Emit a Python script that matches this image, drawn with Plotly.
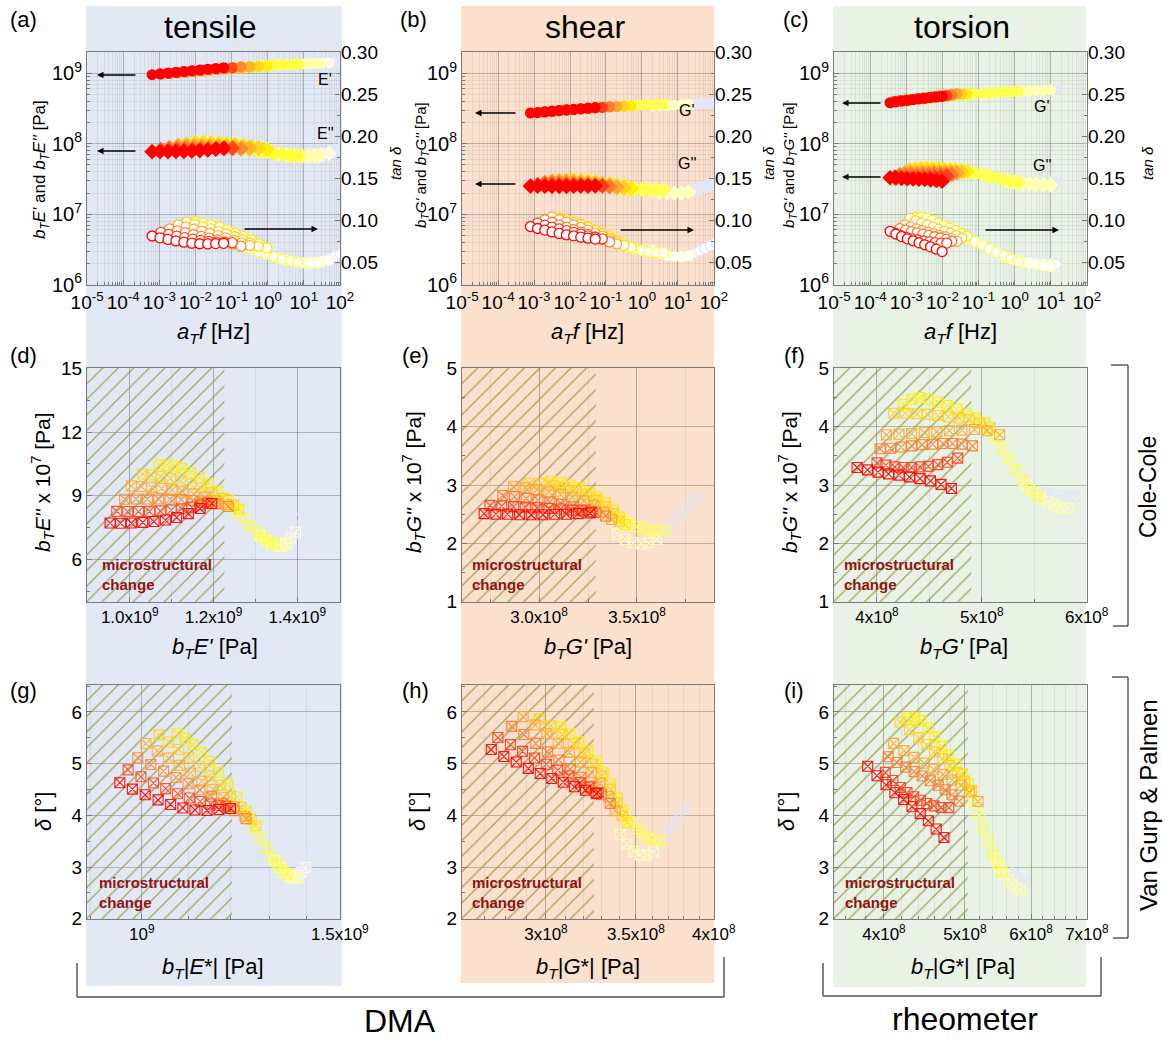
import numpy as np
import plotly.graph_objects as go

W, H = 1174, 1042
FONT = "Liberation Sans, Arial, Helvetica, sans-serif"

# ======================= DATA =======================
# Each inner list is one temperature segment of the master curve.
# log10(a_T f [Hz]), storage modulus, loss modulus
# ---- tensile (DMA): b_T E' [1e9 Pa], b_T E'' [1e7 Pa]
TENSILE_LOGF = [
    [-3.20, -2.98, -2.76, -2.54, -2.32, -2.10, -1.88, -1.66, -1.44, -1.22],
    [-2.96, -2.74, -2.52, -2.30, -2.08, -1.86, -1.64, -1.42, -1.20, -0.98],
    [-2.72, -2.50, -2.28, -2.06, -1.84, -1.62, -1.40, -1.18, -0.96, -0.74],
    [-2.48, -2.26, -2.04, -1.82, -1.60, -1.38, -1.16, -0.94, -0.72, -0.50],
    [-2.24, -2.02, -1.80, -1.58, -1.36, -1.14, -0.92, -0.70, -0.48, -0.26],
    [-2.00, -1.78, -1.56, -1.34, -1.12, -0.90, -0.68, -0.46, -0.24, -0.02],
    [-0.70, -0.48, -0.26, -0.04, 0.18, 0.40, 0.62, 0.84],
    [0.30, 0.52, 0.74, 0.96, 1.18, 1.40],
    [1.10, 1.30, 1.50, 1.70],
    [1.55, 1.70, 1.85, 2.00],
]
TENSILE_STORAGE = [
    [0.953, 0.978, 1.004, 1.031, 1.058, 1.085, 1.112, 1.140, 1.168, 1.196],
    [0.969, 0.995, 1.021, 1.047, 1.073, 1.099, 1.124, 1.148, 1.168, 1.185],
    [0.988, 1.015, 1.042, 1.069, 1.096, 1.123, 1.150, 1.177, 1.205, 1.235],
    [1.004, 1.028, 1.052, 1.076, 1.101, 1.127, 1.153, 1.179, 1.205, 1.232],
    [1.031, 1.052, 1.074, 1.097, 1.121, 1.145, 1.170, 1.196, 1.222, 1.248],
    [1.070, 1.088, 1.106, 1.125, 1.145, 1.166, 1.188, 1.211, 1.235, 1.260],
    [1.243, 1.258, 1.273, 1.288, 1.303, 1.318, 1.332, 1.345],
    [1.310, 1.325, 1.339, 1.352, 1.364, 1.376],
    [1.360, 1.372, 1.384, 1.396],
    [1.390, 1.399, 1.408, 1.417],
]
TENSILE_LOSS = [
    [7.72, 7.71, 7.72, 7.75, 7.79, 7.86, 7.98, 8.16, 8.40, 8.64],
    [8.27, 8.26, 8.26, 8.27, 8.29, 8.33, 8.39, 8.47, 8.57, 8.66],
    [8.84, 8.85, 8.85, 8.85, 8.84, 8.82, 8.78, 8.71, 8.62, 8.50],
    [9.47, 9.44, 9.40, 9.35, 9.28, 9.19, 9.08, 8.95, 8.78, 8.58],
    [10.03, 9.98, 9.91, 9.82, 9.70, 9.55, 9.37, 9.15, 8.88, 8.56],
    [10.45, 10.45, 10.40, 10.28, 10.10, 9.86, 9.57, 9.22, 8.82, 8.38],
    [8.52, 8.22, 7.90, 7.58, 7.28, 7.03, 6.84, 6.72],
    [7.15, 6.92, 6.75, 6.64, 6.62, 6.70],
    [6.62, 6.78, 7.00, 7.30],
    [7.20, 7.55, 7.95, 8.40],
]

# ---- shear (DMA): b_T G' [1e8 Pa], b_T G'' [1e7 Pa]
SHEAR_LOGF = [
    [-3.10, -2.90, -2.70, -2.50, -2.30, -2.10, -1.90, -1.70, -1.50, -1.30],
    [-2.90, -2.70, -2.50, -2.30, -2.10, -1.90, -1.70, -1.50, -1.30, -1.10],
    [-2.70, -2.50, -2.30, -2.10, -1.90, -1.70, -1.50, -1.30, -1.10, -0.90],
    [-2.50, -2.30, -2.10, -1.90, -1.70, -1.50, -1.30, -1.10, -0.90, -0.70],
    [-2.30, -2.10, -1.90, -1.70, -1.50, -1.30, -1.10, -0.90, -0.70, -0.50],
    [-2.10, -1.90, -1.70, -1.50, -1.30, -1.10, -0.90, -0.70, -0.50, -0.30],
    [-0.60, -0.40, -0.20, 0.00, 0.20, 0.40, 0.60],
    [0.30, 0.50, 0.70, 0.90, 1.10, 1.30],
    [1.30, 1.45, 1.60, 1.75, 1.90, 2.05],
]
SHEAR_STORAGE = [
    [2.72, 2.78, 2.84, 2.90, 2.96, 3.02, 3.08, 3.14, 3.20, 3.26],
    [2.75, 2.81, 2.87, 2.93, 2.99, 3.05, 3.11, 3.17, 3.22, 3.27],
    [2.815, 2.875, 2.935, 2.995, 3.055, 3.115, 3.175, 3.235, 3.29, 3.34],
    [2.87, 2.93, 2.99, 3.05, 3.11, 3.17, 3.23, 3.28, 3.33, 3.37],
    [2.95, 3.01, 3.07, 3.13, 3.19, 3.24, 3.29, 3.34, 3.38, 3.41],
    [3.06, 3.11, 3.16, 3.21, 3.26, 3.30, 3.34, 3.38, 3.41, 3.44],
    [3.43, 3.46, 3.50, 3.53, 3.57, 3.60, 3.64],
    [3.40, 3.44, 3.48, 3.52, 3.56, 3.60],
    [3.60, 3.64, 3.68, 3.72, 3.76, 3.80],
]
SHEAR_LOSS = [
    [2.51, 2.50, 2.50, 2.49, 2.49, 2.49, 2.50, 2.50, 2.51, 2.52],
    [2.65, 2.64, 2.63, 2.62, 2.61, 2.60, 2.59, 2.57, 2.56, 2.54],
    [2.82, 2.80, 2.77, 2.74, 2.71, 2.67, 2.63, 2.58, 2.53, 2.47],
    [2.97, 2.95, 2.92, 2.88, 2.84, 2.79, 2.73, 2.65, 2.54, 2.41],
    [3.03, 3.02, 2.99, 2.95, 2.90, 2.83, 2.74, 2.63, 2.51, 2.38],
    [3.06, 3.04, 3.00, 2.95, 2.88, 2.79, 2.69, 2.57, 2.45, 2.32],
    [2.40, 2.34, 2.29, 2.25, 2.22, 2.21, 2.23],
    [2.16, 2.07, 2.01, 1.99, 2.01, 2.07],
    [2.10, 2.20, 2.32, 2.46, 2.60, 2.76],
]

# ---- torsion (rheometer): b_T G' [1e8 Pa], b_T G'' [1e7 Pa]
TORSION_LOGF = [
    [-3.45, -3.29, -3.13, -2.97, -2.81, -2.65, -2.49, -2.33, -2.17, -2.01],
    [-3.32, -3.16, -3.00, -2.84, -2.68, -2.52, -2.36, -2.20, -2.04, -1.88],
    [-3.18, -3.02, -2.86, -2.70, -2.54, -2.38, -2.22, -2.06, -1.90, -1.74],
    [-3.04, -2.88, -2.72, -2.56, -2.40, -2.24, -2.08, -1.92, -1.76, -1.60],
    [-2.90, -2.74, -2.58, -2.42, -2.26, -2.10, -1.94, -1.78, -1.62, -1.46],
    [-2.76, -2.60, -2.44, -2.28, -2.12, -1.96, -1.80, -1.64, -1.48, -1.32],
    [-1.30, -1.10, -0.90, -0.70, -0.50, -0.30, -0.10, 0.10],
    [-0.20, 0.00, 0.20, 0.40, 0.60, 0.80, 1.00],
    [0.40, 0.60, 0.80, 1.00, 1.15],
]
TORSION_STORAGE = [
    [3.81, 3.91, 4.01, 4.11, 4.21, 4.31, 4.41, 4.51, 4.61, 4.71],
    [4.00, 4.085, 4.17, 4.25, 4.33, 4.41, 4.49, 4.58, 4.67, 4.77],
    [4.03, 4.13, 4.23, 4.33, 4.43, 4.53, 4.63, 4.72, 4.81, 4.91],
    [4.09, 4.21, 4.33, 4.45, 4.57, 4.69, 4.81, 4.93, 5.05, 5.17],
    [4.16, 4.27, 4.38, 4.48, 4.58, 4.68, 4.78, 4.88, 4.98, 5.08],
    [4.25, 4.33, 4.41, 4.49, 4.58, 4.67, 4.76, 4.85, 4.94, 5.03],
    [5.06, 5.12, 5.19, 5.25, 5.32, 5.39, 5.46, 5.53],
    [5.43, 5.49, 5.56, 5.63, 5.69, 5.75, 5.82],
    [5.62, 5.69, 5.76, 5.83, 5.89],
]
TORSION_LOSS = [
    [3.30, 3.26, 3.22, 3.19, 3.17, 3.14, 3.11, 3.07, 3.01, 2.94],
    [3.38, 3.34, 3.31, 3.30, 3.30, 3.31, 3.32, 3.35, 3.39, 3.46],
    [3.62, 3.63, 3.65, 3.67, 3.69, 3.70, 3.71, 3.71, 3.70, 3.67],
    [3.86, 3.87, 3.88, 3.90, 3.91, 3.93, 3.94, 3.95, 3.93, 3.86],
    [4.23, 4.23, 4.22, 4.21, 4.19, 4.17, 4.15, 4.12, 4.06, 3.98],
    [4.38, 4.47, 4.50, 4.47, 4.42, 4.36, 4.30, 4.23, 4.15, 4.06],
    [3.95, 3.82, 3.64, 3.45, 3.26, 3.08, 2.93, 2.81],
    [3.00, 2.88, 2.78, 2.71, 2.66, 2.62, 2.60],
    [2.86, 2.83, 2.81, 2.80, 2.80],
]

STORAGE_UNIT = [1e9, 1e8, 1e8]
LOSS_UNIT = 1e7

# upper limit of the "microstructural change" (hatched) region
HATCH_LIMIT_COLECOLE = [1.226e9, 3.29e8, 4.90e8]
HATCH_LIMIT_VANGURP = [1.203e9, 3.257e8, 5.04e8]

COLUMN_TITLES = ["tensile", "shear", "torsion"]
MODULUS_SYMBOL = ["E", "G", "G"]

# ======================= STYLES =======================
TENSILE_COLORS = ['#ff0000', '#ff4a1c', '#ff8a2a', '#ffb22a', '#ffd41a', '#ffee00',
                  '#ffff3a', '#ffffa6', '#fff9e4', '#e4e6fa']
SHEAR_COLORS = ['#ff0000', '#ff3c1c', '#ff7a2a', '#ffa830', '#ffd01e', '#ffee00',
                '#ffff50', '#ffffc0', '#e4e6fa']
TORSION_COLORS = ['#ff0000', '#ff3c1c', '#ff7a2a', '#ffa830', '#ffd01e', '#fff000',
                  '#ffff50', '#ffffb0', '#e4e6fa']
COLUMN_BG = ['rgb(227,233,244)', 'rgb(250,224,205)', 'rgb(232,242,229)']

COLUMNS = [
    (TENSILE_LOGF, TENSILE_STORAGE, TENSILE_LOSS, TENSILE_COLORS),
    (SHEAR_LOGF, SHEAR_STORAGE, SHEAR_LOSS, SHEAR_COLORS),
    (TORSION_LOGF, TORSION_STORAGE, TORSION_LOSS, TORSION_COLORS),
]

COL_X = [(87, 340), (462, 714), (834, 1087)]
ROW_Y = [(52, 285), (368, 602), (685, 919)]


def dom_x(c):
    a, b = COL_X[c]
    return [a / W, b / W]


def dom_y(r):
    a, b = ROW_Y[r]
    return [1 - b / H, 1 - a / H]


def tf(size):
    return dict(family=FONT, size=size, color='black')


GRID = 'rgba(95,95,95,0.40)'
MINORGRID = 'rgba(95,95,95,0.10)'
FRAME = '#7a7a7a'


def base_axis(**kw):
    d = dict(showline=True, linecolor=FRAME, linewidth=1, mirror=True,
             ticks='inside', ticklen=5, tickcolor=FRAME, tickwidth=1, tickangle=0,
             showgrid=True, gridcolor=GRID, gridwidth=1, zeroline=False,
             automargin=False, fixedrange=True, tickfont=tf(18))
    d.update(kw)
    return d


def minor_axis(grid=True, **kw):
    d = dict(ticks='inside', ticklen=3, tickcolor=FRAME, showgrid=grid,
             gridcolor=MINORGRID, gridwidth=1)
    d.update(kw)
    return d


def sup(mant, e):
    return (f"{mant}x" if mant else "") + f"10<sup>{e}</sup>"


fig = go.Figure()
layout = dict(width=W, height=H, margin=dict(l=0, r=0, t=0, b=0),
              paper_bgcolor='white', plot_bgcolor='rgba(0,0,0,0)',
              showlegend=False, font=dict(family=FONT, color='black'))

# -------- axes --------
for c in range(3):
    xt, yt, yr = c + 1, c + 1, 10 + c
    # top row: frequency sweeps
    layout[f'xaxis{xt}'] = base_axis(
        type='log', range=[-5.002, 2.002], domain=dom_x(c), anchor=f'y{yt}',
        tickmode='array', tickvals=[10.0 ** e for e in range(-5, 3)],
        ticktext=[sup(None, e) for e in range(-5, 3)], tickfont=tf(19),
        minor=minor_axis(tickmode='array',
                         tickvals=[m * 10.0 ** e for e in range(-5, 2) for m in range(2, 10)]))
    layout[f'yaxis{yt}'] = base_axis(
        type='log', range=[5.998, 9.3], domain=dom_y(0), anchor=f'x{xt}',
        tickmode='array', tickvals=[10.0 ** e for e in range(6, 10)],
        ticktext=[sup(None, e) for e in range(6, 10)], tickfont=tf(20),
        minor=minor_axis(tickmode='array',
                         tickvals=[m * 10.0 ** e for e in range(6, 10) for m in range(2, 10)]))
    layout[f'yaxis{yr}'] = dict(
        overlaying=f'y{yt}', side='right', anchor=f'x{xt}', range=[0.0226, 0.3003],
        tickmode='linear', tick0=0.05, dtick=0.05, tickformat='.2f',
        showgrid=False, showline=False, zeroline=False, ticks='inside', ticklen=5,
        tickcolor=FRAME, tickfont=tf(19), automargin=False, fixedrange=True,
        minor=dict(ticks='inside', ticklen=3, tickcolor=FRAME, dtick=0.025, showgrid=False))

# middle row: Cole-Cole
layout['xaxis4'] = base_axis(range=[0.898e9, 1.502e9], domain=dom_x(0), anchor='y4',
                             tickmode='array', tickvals=[1.0e9, 1.2e9, 1.4e9],
                             ticktext=[sup('1.0', 9), sup('1.2', 9), sup('1.4', 9)],
                             tickfont=tf(17), minor=minor_axis(dtick=0.1e9, tick0=0))
layout['yaxis4'] = base_axis(range=[4.0, 15.02], domain=dom_y(1), anchor='x4',
                             tickmode='array', tickvals=[6, 9, 12, 15], tickfont=tf(19),
                             minor=minor_axis(grid=False, dtick=1.5, tick0=0))
layout['xaxis5'] = base_axis(range=[2.607e8, 3.893e8], domain=dom_x(1), anchor='y5',
                             tickmode='array', tickvals=[3.0e8, 3.5e8],
                             ticktext=[sup('3.0', 8), sup('3.5', 8)],
                             tickfont=tf(17), minor=minor_axis(dtick=0.25e8, tick0=0))
layout['xaxis6'] = base_axis(range=[3.59e8, 6.003e8], domain=dom_x(2), anchor='y6',
                             tickmode='array', tickvals=[4e8, 5e8, 6e8],
                             ticktext=[sup('4', 8), sup('5', 8), sup('6', 8)],
                             tickfont=tf(17), minor=minor_axis(dtick=0.5e8, tick0=0))
for k in (5, 6):
    layout[f'yaxis{k}'] = base_axis(range=[0.995, 5.005], domain=dom_y(1), anchor=f'x{k}',
                                    tickmode='linear', tick0=1, dtick=1, tickfont=tf(19),
                                    minor=minor_axis(grid=False, dtick=0.5, tick0=0))

# bottom row: Van Gurp-Palmen
layout['xaxis7'] = base_axis(type='log', range=[np.log10(0.894e9), np.log10(1.5e9) + 1e-4],
                             domain=dom_x(0), anchor='y7', tickmode='array',
                             tickvals=[1e9, 1.5e9], ticktext=[sup(None, 9), sup('1.5', 9)],
                             tickfont=tf(17),
                             minor=minor_axis(tickmode='array',
                                              tickvals=[0.9e9, 1.1e9, 1.2e9, 1.3e9, 1.4e9]))
layout['xaxis8'] = base_axis(type='log', range=[np.log10(2.598e8), np.log10(4e8) + 1e-4],
                             domain=dom_x(1), anchor='y8', tickmode='array',
                             tickvals=[3e8, 3.5e8, 4e8],
                             ticktext=[sup('3', 8), sup('3.5', 8), sup('4', 8)],
                             tickfont=tf(17),
                             minor=minor_axis(tickmode='array',
                                              tickvals=[v * 1e7 for v in range(26, 41)]))
layout['xaxis9'] = base_axis(type='log', range=[np.log10(3.485e8), np.log10(7e8) + 1e-4],
                             domain=dom_x(2), anchor='y9', tickmode='array',
                             tickvals=[4e8, 5e8, 6e8, 7e8],
                             ticktext=[sup('4', 8), sup('5', 8), sup('6', 8), sup('7', 8)],
                             tickfont=tf(17),
                             minor=minor_axis(tickmode='array',
                                              tickvals=[v * 1e7 for v in range(36, 70, 2)]))
for k in (7, 8, 9):
    layout[f'yaxis{k}'] = base_axis(range=[1.996, 6.52], domain=dom_y(2), anchor=f'x{k}',
                                    tickmode='linear', tick0=2, dtick=1, tickfont=tf(19),
                                    minor=minor_axis(grid=False, dtick=0.5, tick0=0))

# -------- hatched "microstructural change" regions --------
hatch = dict(shape='/', size=11, solidity=0.12, fgcolor='rgba(150,150,70,0.85)',
             bgcolor='rgba(0,0,0,0)', fillmode='replace')
for c in range(3):
    for lim, ax, lo, (ylo, yhi) in ((HATCH_LIMIT_COLECOLE[c], c + 4, 1e8, (0, 20)),
                                    (HATCH_LIMIT_VANGURP[c], c + 7, 1e8, (0, 10))):
        fig.add_trace(go.Scatter(
            x=[lo, lim, lim, lo, lo], y=[ylo, ylo, yhi, yhi, ylo],
            xaxis=f'x{ax}', yaxis=f'y{ax}', mode='lines', fill='toself',
            fillcolor='rgba(0,0,0,0)', fillpattern=hatch, line=dict(width=0),
            hoverinfo='skip'))

# -------- data traces --------
for c, (logf, stor, loss, colors) in enumerate(COLUMNS):
    for k in reversed(range(len(logf))):
        f = 10.0 ** np.array(logf[k])
        sp = np.array(stor[k]) * STORAGE_UNIT[c]
        lp = np.array(loss[k]) * LOSS_UNIT
        tan_d = lp / sp
        delta = np.degrees(np.arctan(tan_d))
        cmod = np.hypot(sp, lp)
        col = colors[k]
        fig.add_trace(go.Scatter(x=f, y=sp, mode='markers', xaxis=f'x{c+1}', yaxis=f'y{c+1}',
                                 marker=dict(symbol='circle', size=11, color=col,
                                             line=dict(width=0))))
        fig.add_trace(go.Scatter(x=f, y=lp, mode='markers', xaxis=f'x{c+1}', yaxis=f'y{c+1}',
                                 marker=dict(symbol='diamond', size=12, color=col,
                                             line=dict(width=0))))
        fig.add_trace(go.Scatter(x=f, y=tan_d, mode='markers', xaxis=f'x{c+1}', yaxis=f'y{10+c}',
                                 marker=dict(symbol='circle', size=10, color='white',
                                             line=dict(color=col, width=1.3))))
        fig.add_trace(go.Scatter(x=sp, y=lp / LOSS_UNIT, mode='markers',
                                 xaxis=f'x{c+4}', yaxis=f'y{c+4}', opacity=0.9,
                                 marker=dict(symbol='square-x-open', size=10, color=col,
                                             line=dict(width=1.1))))
        fig.add_trace(go.Scatter(x=cmod, y=delta, mode='markers',
                                 xaxis=f'x{c+7}', yaxis=f'y{c+7}', opacity=0.9,
                                 marker=dict(symbol='square-x-open', size=10, color=col,
                                             line=dict(width=1.1))))

# -------- decorations --------
ANN = []
SHAPES = []


def ann(text, x, y, size, angle=0, color='black', xanchor='center', align='center'):
    ANN.append(dict(text=text, x=x / W, y=1 - y / H, xref='paper', yref='paper',
                    showarrow=False, font=dict(family=FONT, size=size, color=color),
                    textangle=angle, xanchor=xanchor, yanchor='middle', align=align))


def arrow(xh, yh, xt_, yt_):
    ANN.append(dict(text='', x=xh / W, y=1 - yh / H, xref='paper', yref='paper',
                    ax=xt_ - xh, ay=yt_ - yh, axref='pixel', ayref='pixel',
                    showarrow=True, arrowhead=2, arrowsize=1, arrowwidth=1.3,
                    arrowcolor='black'))


def rect(x0, y0, x1, y1, color):
    SHAPES.append(dict(type='rect', xref='paper', yref='paper', x0=x0 / W, x1=x1 / W,
                       y0=1 - y1 / H, y1=1 - y0 / H, fillcolor=color,
                       line=dict(width=0), layer='below'))


def seg(x0, y0, x1, y1):
    SHAPES.append(dict(type='line', xref='paper', yref='paper', x0=x0 / W, y0=1 - y0 / H,
                       x1=x1 / W, y1=1 - y1 / H, line=dict(color='#505050', width=1.4)))


rect(86, 6, 342, 986, COLUMN_BG[0])
rect(461, 6, 714, 983, COLUMN_BG[1])
rect(833, 6, 1086, 987, COLUMN_BG[2])

# column titles and panel letters
for c, xc in enumerate((210, 585, 962)):
    ann(COLUMN_TITLES[c], xc, 27, 32)
for lab, x, y in (('(a)', 23, 20), ('(b)', 413, 20), ('(c)', 796, 20),
                  ('(d)', 23, 356), ('(e)', 415, 356), ('(f)', 794, 356),
                  ('(g)', 23, 690), ('(h)', 415, 690), ('(i)', 794, 690)):
    ann(lab, x, y, 22)

T = '<i>b</i><sub><i>T</i></sub>'
# top row titles
ann(f"{T}<i>E'</i> and {T}<i>E''</i> [Pa]", 41, 170, 17, angle=-90)
ann(f"{T}<i>G'</i> and {T}<i>G''</i> [Pa]", 421, 165, 15, angle=-90)
ann(f"{T}<i>G'</i> and {T}<i>G''</i> [Pa]", 789, 165, 15, angle=-90)
for x in (395, 768, 1147):
    ann('<i>tan δ</i>', x, 163, 15, angle=-90)
for xc in (213, 588, 960):
    ann('<i>a</i><sub><i>T</i></sub><i>f</i> [Hz]', xc, 333, 22)
# middle row titles
for c, (xc, xy) in enumerate(((215, 43), (588, 414), (964, 790))):
    s = MODULUS_SYMBOL[c]
    ann(f"{T}<i>{s}'</i> [Pa]", xc, 648, 22)
    ann(f"{T}<i>{s}''</i> x 10<sup>7</sup> [Pa]", xy, 482, 21, angle=-90)
# bottom row titles
for c, (xc, xy) in enumerate(((213, 43), (588, 417), (963, 786))):
    s = MODULUS_SYMBOL[c]
    ann(f"{T}|<i>{s}</i>*| [Pa]", xc, 968, 22)
    ann('<i>δ</i> [°]', xy, 812, 22, angle=-90)

# modulus labels and arrows in the top row
for txt, x, y in (("E'", 325, 79), ("E''", 325, 133), ("G'", 687, 110), ("G''", 687, 163),
                  ("G'", 1042, 107), ("G''", 1042, 166)):
    ann(txt, x, y, 16)
for (h1, t1, yA, yB, ta_t, ta_h, yC) in ((97, 137, 75, 151, 243, 318, 229),
                                          (475, 517, 113, 184, 619, 694, 230),
                                          (842, 882, 103, 177, 984, 1059, 230)):
    arrow(h1, yA, t1, yA)
    arrow(h1, yB, t1, yB)
    arrow(ta_h, yC, ta_t, yC)

# microstructural change labels
for x, y in ((100, 574), (470, 574), (842, 574), (97, 892), (470, 892), (843, 892)):
    ann('<b>microstructural<br>change</b>', x, y, 15, color='#8e1414',
        xanchor='left', align='left')

# brackets
seg(77, 963, 77, 997); seg(77, 997, 724, 997); seg(724, 997, 724, 957)
seg(823, 963, 823, 996); seg(823, 996, 1101, 996); seg(1101, 996, 1101, 957)
seg(1111, 365, 1128, 365); seg(1128, 365, 1128, 626); seg(1113, 626, 1128, 626)
seg(1112, 677, 1128, 677); seg(1128, 677, 1128, 938); seg(1113, 938, 1128, 938)
ann('DMA', 400, 1021, 32)
ann('rheometer', 965, 1019, 32)
ann('Cole-Cole', 1148, 487, 23, angle=-90)
ann('Van Gurp &amp; Palmen', 1148, 805, 24, angle=-90)

layout['annotations'] = ANN
layout['shapes'] = SHAPES
fig.update_layout(**layout)

fig.write_html("out.html", config={'displayModeBar': False},
               post_script="document.body.style.margin='0';")
